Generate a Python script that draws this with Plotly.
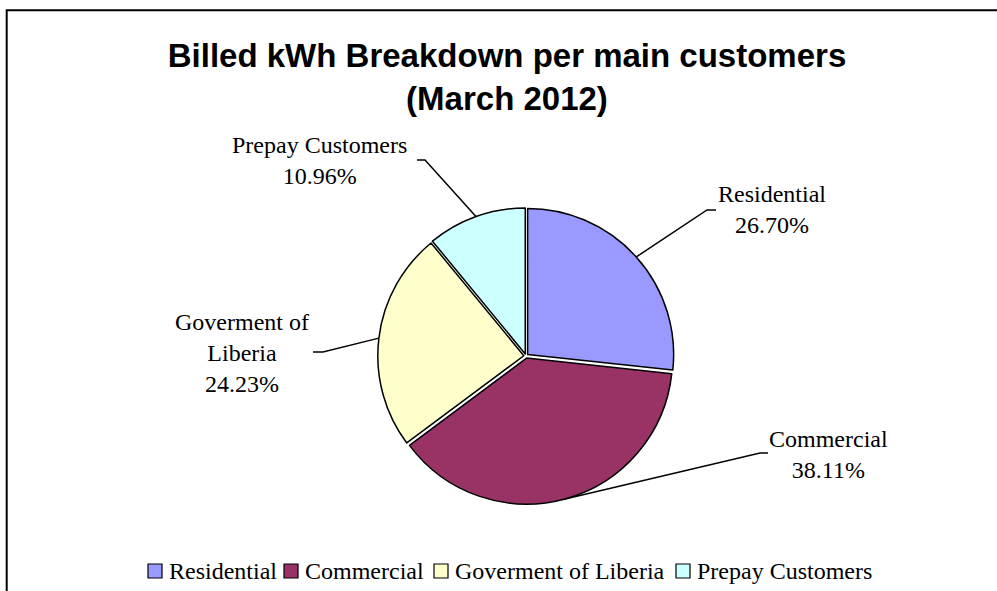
import math
import plotly.graph_objects as go

# Billed kWh shares by customer group, March 2012 (percent)
categories = ["Residential", "Commercial", "Goverment of Liberia", "Prepay Customers"]
shares = [26.70, 38.11, 24.23, 10.96]
colors = ["#9999FF", "#993366", "#FFFFCC", "#CCFFFF"]
label_lines = [["Residential"], ["Commercial"], ["Goverment of", "Liberia"], ["Prepay Customers"]]

W, H = 997, 591
PIE_CX, PIE_CY, PIE_BOX_R = 526, 356, 148.2   # pixel centre and half-size of the pie box
PULL = 0.015

# label centres and leader-line elbows (pixels)
label_pos = [(772, 210), (828, 454), (242, 353), (319, 160)]
elbow = [((707, 210), (716, 210)), ((760, 453), (768, 453)),
         ((323, 352), (313, 352)), ((425, 160), (417, 160))]

# legend row: left edge of each key square (pixels), row centre y
legend_x = [148, 284, 434, 676]
LEGEND_Y = 571
KEY = 14


def px(x, y):
    return x / W, 1 - y / H


fig = go.Figure(go.Pie(
    labels=categories,
    values=shares,
    sort=False,
    direction="clockwise",
    rotation=0,
    pull=[PULL] * len(shares),
    marker=dict(colors=colors, line=dict(color="black", width=1.5)),
    textinfo="none",
    hoverinfo="label+percent",
    showlegend=False,
    domain=dict(
        x=[(PIE_CX - PIE_BOX_R) / W, (PIE_CX + PIE_BOX_R) / W],
        y=[1 - (PIE_CY + PIE_BOX_R) / H, 1 - (PIE_CY - PIE_BOX_R) / H],
    ),
))

# leader lines: start on the slice edge at each slice's mid angle
total = sum(shares)
cum = 0.0
shapes = []
annotations = []
for i, v in enumerate(shares):
    mid = (cum + v / 2) / total * 2 * math.pi
    cum += v
    sx = PIE_CX + PIE_BOX_R * math.sin(mid)
    sy = PIE_CY - PIE_BOX_R * math.cos(mid)
    (ex, ey), (hx, hy) = elbow[i]
    p0, p1, p2 = px(sx, sy), px(ex, ey), px(hx, hy)
    shapes.append(dict(
        type="path", xref="paper", yref="paper",
        path=f"M{p0[0]},{p0[1]} L{p1[0]},{p1[1]} L{p2[0]},{p2[1]}",
        line=dict(color="black", width=1.5),
    ))
    lx, ly = px(*label_pos[i])
    annotations.append(dict(
        text="<br>".join(label_lines[i] + [f"{v:.2f}%"]),
        x=lx, y=ly, xref="paper", yref="paper",
        xanchor="center", yanchor="middle", align="center",
        showarrow=False,
        font=dict(family="Liberation Serif", size=24, color="black"),
    ))

# legend keys and names
for name, col, x0 in zip(categories, colors, legend_x):
    a = px(x0, LEGEND_Y - KEY / 2)
    b = px(x0 + KEY, LEGEND_Y + KEY / 2)
    shapes.append(dict(type="rect", xref="paper", yref="paper",
                       x0=a[0], y0=b[1], x1=b[0], y1=a[1],
                       fillcolor=col, line=dict(color="black", width=1.2)))
    tx, ty = px(x0 + KEY + 5, LEGEND_Y)
    annotations.append(dict(
        text=name, x=tx, y=ty, xref="paper", yref="paper",
        xanchor="left", yanchor="middle", showarrow=False,
        font=dict(family="Liberation Serif", size=24, color="black"),
    ))

# chart frame
bx0, by0 = px(6.7, 10.3)
shapes.append(dict(type="rect", xref="paper", yref="paper",
                   x0=bx0, y0=-0.1, x1=1.1, y1=by0,
                   line=dict(color="black", width=2), fillcolor="rgba(0,0,0,0)"))

fig.update_layout(
    width=W, height=H,
    margin=dict(l=0, r=0, t=0, b=0),
    paper_bgcolor="white",
    plot_bgcolor="white",
    font=dict(family="Liberation Serif", size=24, color="black"),
    title=dict(
        text="Billed kWh Breakdown per main customers<br>(March 2012)",
        x=507 / W, xanchor="center",
        y=1 - 67 / H, yanchor="top", yref="paper",
        font=dict(family="Liberation Sans", size=33, color="black", weight="bold"),
    ),
    showlegend=False,
    shapes=shapes,
    annotations=annotations,
)

fig.write_html("out.html")
